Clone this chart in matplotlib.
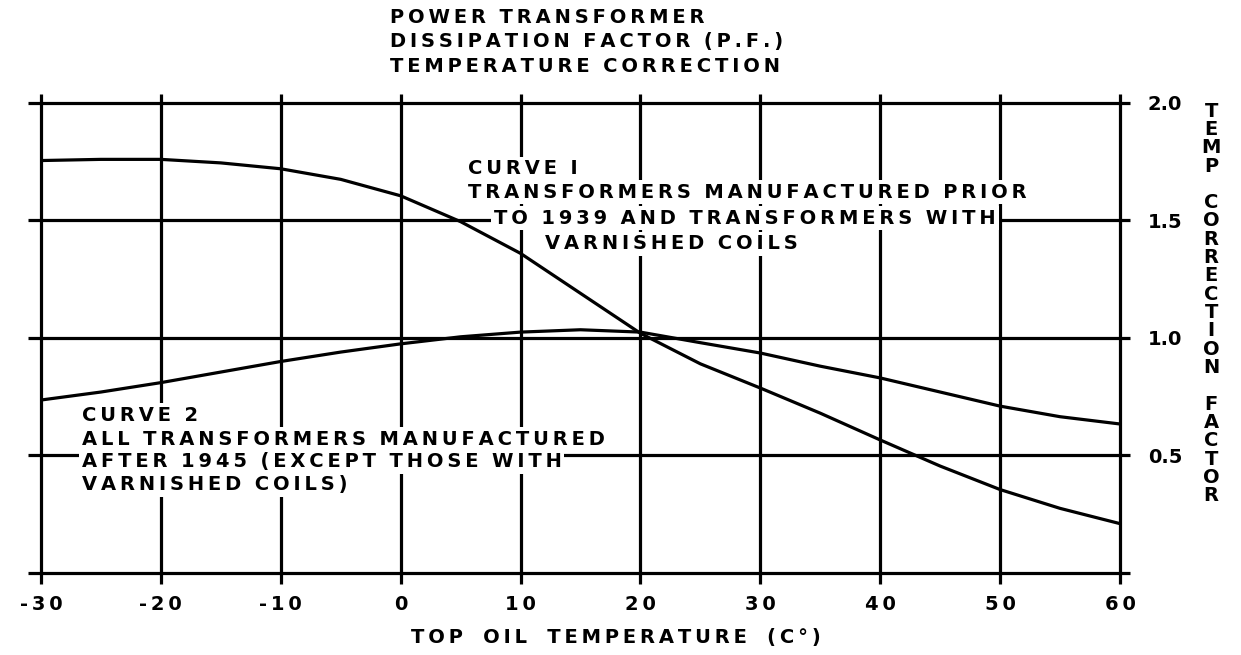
"""Power transformer dissipation factor temperature correction curves."""
import numpy as np
import matplotlib
matplotlib.use("Agg")
import matplotlib.pyplot as plt

# top oil temperature (deg C)
temp = [-30, -25, -20, -15, -10, -5, 0, 5, 10, 15, 20, 25, 30, 35, 40, 45, 50, 55, 60]
# curve 1: transformers made before 1939 / varnished coils
curve1 = [1.755, 1.76, 1.76, 1.745, 1.72, 1.675, 1.605, 1.495, 1.36, 1.19, 1.02,
          0.89, 0.787, 0.68, 0.566, 0.455, 0.355, 0.275, 0.21]
# curve 2: transformers made after 1945
curve2 = [0.736, 0.77, 0.81, 0.855, 0.90, 0.94, 0.975, 1.005, 1.025, 1.035, 1.025,
          0.98, 0.936, 0.88, 0.83, 0.77, 0.71, 0.665, 0.634]

xticks = [-30, -20, -10, 0, 10, 20, 30, 40, 50, 60]
yticks = [0.5, 1.0, 1.5, 2.0]
ylabels = ["0.5", "1.0", "1.5", "2.0"]


def spaced(s, sep="\u2009", word="  "):
    # wide drafting-style lettering
    return word.join(sep.join(w) for w in s.split(" "))


fig = plt.figure(figsize=(12.41, 6.55), dpi=100)
ax = fig.add_axes([0.033, 0.1252, 0.8695, 0.7176])
ax.set_xlim(-30, 60)
ax.set_ylim(0, 2)
for s in ax.spines.values():
    s.set_visible(False)

lw = 2.3
# heavy grid, drawn a little past the frame like the original
ax.vlines(xticks, -0.045, 2.04, color="black", lw=lw, clip_on=False, zorder=1)
ax.hlines([0] + yticks, -31.1, 60.8, color="black", lw=lw, clip_on=False, zorder=1)

ax.plot(temp, curve1, color="black", lw=lw, zorder=3)
ax.plot(temp, curve2, color="black", lw=lw, zorder=3)

ax.set_xticks(xticks)
ax.set_xticklabels([spaced(str(t)) for t in xticks], fontweight="bold")
ax.tick_params(axis="x", length=0, pad=16, labelsize=14)
ax.yaxis.tick_right()
ax.set_yticks(yticks)
ax.set_yticklabels(ylabels, fontweight="bold")
ax.tick_params(axis="y", length=0, pad=20, labelsize=14)
ax.set_xlabel(spaced("TOP OIL TEMPERATURE (C°)", word="   "), fontsize=14, fontweight="bold")
ax.xaxis.set_label_coords(0.533, -0.118)

box = dict(facecolor="white", edgecolor="none", pad=2)
tkw = dict(fontsize=14, fontweight="bold", ha="left", va="center", zorder=4, bbox=box)
c1 = ["CURVE I", "TRANSFORMERS MANUFACTURED PRIOR",
      "TO 1939 AND TRANSFORMERS WITH", "VARNISHED COILS"]
c1_pos = [(5.6, 1.72), (5.6, 1.62), (7.8, 1.51), (12.0, 1.40)]
for s, (x, y) in zip(c1, c1_pos):
    ax.text(x, y, spaced(s), **tkw)
c2 = ["CURVE 2", "ALL TRANSFORMERS MANUFACTURED",
      "AFTER 1945 (EXCEPT THOSE WITH", "VARNISHED COILS)"]
c2_pos = [(-26.6, 0.67), (-26.6, 0.57), (-26.6, 0.475), (-26.6, 0.375)]
for s, (x, y) in zip(c2, c2_pos):
    ax.text(x, y, spaced(s), **tkw)

title = ["POWER TRANSFORMER", "DISSIPATION FACTOR (P.F.)", "TEMPERATURE CORRECTION"]
fig.text(0.314, 0.988, "\n".join(spaced(t) for t in title),
         fontsize=14, fontweight="bold", ha="left", va="top", linespacing=1.36)

vert = "\n".join("TEMP CORRECTION FACTOR")
fig.text(0.976, 0.845, vert, fontsize=14, ha="center", va="top",
         linespacing=0.955, fontweight="bold")

fig.savefig("out.png", dpi=100)
